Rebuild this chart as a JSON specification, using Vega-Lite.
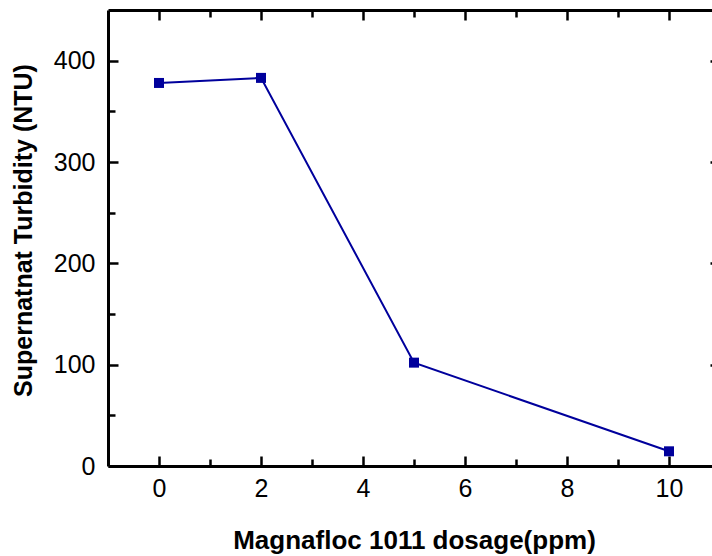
{
  "$schema": "https://vega.github.io/schema/vega-lite/v6.json",
  "width": 612,
  "height": 456,
  "autosize": "none",
  "padding": {"left": 108, "top": 10, "right": 0, "bottom": 90},
  "background": "white",
  "config": {
    "view": {"stroke": null},
    "font": "Liberation Sans",
    "axis": {
      "domainColor": "black",
      "tickColor": "black",
      "domainWidth": 3,
      "tickWidth": 2.5,
      "grid": false,
      "labelFont": "Liberation Sans",
      "labelFontSize": 25,
      "labelColor": "black",
      "titleFont": "Liberation Sans",
      "titleColor": "black",
      "titleFontSize": 25,
      "titleFontWeight": "bold"
    }
  },
  "data": {
    "values": [
      {"dosage": 0, "turbidity": 378},
      {"dosage": 2, "turbidity": 383},
      {"dosage": 5, "turbidity": 102},
      {"dosage": 10, "turbidity": 14.5}
    ]
  },
  "layer": [
    {
      "mark": {"type": "line", "color": "#00009c", "strokeWidth": 2},
      "encoding": {
        "x": {"field": "dosage", "type": "quantitative", "scale": {"domain": [-1, 11], "nice": false, "zero": false},
          "axis": {"orient": "bottom", "values": [0, 2, 4, 6, 8, 10], "tickSize": -10, "tickWidth": 2.5, "tickColor": "black", "domainWidth": 3, "domainColor": "black", "labelPadding": 20, "labelFontSize": 25, "labelFlush": false, "labelOverlap": false,
            "title": "Magnafloc 1011 dosage(ppm)", "titleFontSize": 26, "titleY": 82, "titleBaseline": "alphabetic"}},
        "y": {"field": "turbidity", "type": "quantitative", "scale": {"domain": [0, 450], "nice": false},
          "axis": {"orient": "left", "values": [0, 100, 200, 300, 400], "tickSize": -10, "tickWidth": 2.5, "tickColor": "black", "domainWidth": 3, "domainColor": "black", "labelPadding": 23, "labelFontSize": 25, "labelFlush": false, "labelOverlap": false,
            "title": "Supernatnat Turbidity (NTU)", "titleFontSize": 25, "titleX": -85, "titleY": 220, "titleAngle": -90, "titleAlign": "center", "titleBaseline": "middle"}}
      }
    },
    {
      "mark": {"type": "point", "shape": "square", "filled": true, "size": 100, "color": "#00009c", "opacity": 1},
      "encoding": {
        "x": {"field": "dosage", "type": "quantitative",
          "axis": {"orient": "bottom", "values": [1, 3, 5, 7, 9], "tickSize": -7, "tickWidth": 2.5, "tickColor": "black", "labels": false, "domain": false, "title": null}},
        "y": {"field": "turbidity", "type": "quantitative",
          "axis": {"orient": "left", "values": [50, 150, 250, 350], "tickSize": -7, "tickWidth": 2.5, "tickColor": "black", "labels": false, "domain": false, "title": null}}
      }
    },
    {
      "mark": {"type": "point", "opacity": 0},
      "encoding": {
        "x": {"field": "dosage", "type": "quantitative",
          "axis": {"orient": "top", "values": [0, 2, 4, 6, 8, 10], "tickSize": -10, "tickWidth": 2.5, "tickColor": "black", "domainWidth": 3, "domainColor": "black", "labels": false, "title": null}},
        "y": {"field": "turbidity", "type": "quantitative",
          "axis": {"orient": "right", "values": [0, 100, 200, 300, 400], "tickSize": -10, "tickWidth": 2.5, "tickColor": "black", "domainWidth": 3, "domainColor": "black", "labels": false, "title": null}}
      }
    },
    {
      "mark": {"type": "point", "opacity": 0},
      "encoding": {
        "x": {"field": "dosage", "type": "quantitative",
          "axis": {"orient": "top", "values": [1, 3, 5, 7, 9], "tickSize": -7, "tickWidth": 2.5, "tickColor": "black", "labels": false, "domain": false, "title": null}},
        "y": {"field": "turbidity", "type": "quantitative",
          "axis": {"orient": "right", "values": [50, 150, 250, 350], "tickSize": -7, "tickWidth": 2.5, "tickColor": "black", "labels": false, "domain": false, "title": null}}
      }
    }
  ],
  "resolve": {"scale": {"x": "shared", "y": "shared"}, "axis": {"x": "independent", "y": "independent"}}
}
